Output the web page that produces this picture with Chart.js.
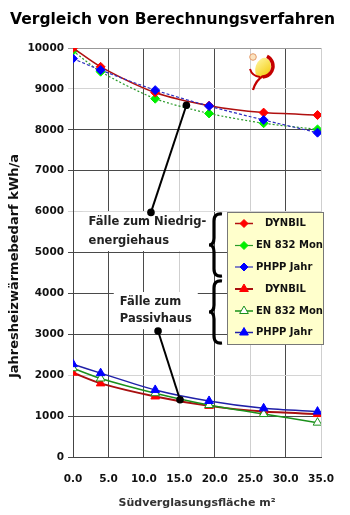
<!DOCTYPE html>
<html>
<head>
<meta charset="utf-8">
<script src="https://cdn.jsdelivr.net/npm/chart.js@4"></script>
<style>
  html, body { margin: 0; padding: 0; background: #fff; }
  #wrap { width: 350px; height: 515px; }
</style>
</head>
<body>
<div id="wrap"><canvas id="chart" width="350" height="515"></canvas></div>
<script>
const FONT = '"DejaVu Sans", "Liberation Sans", sans-serif';

// Südverglasungsfläche (m²)
const flaeche = [0, 3.9, 11.6, 19.2, 26.9, 34.5];

// Fälle zum Niedrigenergiehaus (kWh/a)
const nehDynbil = [10000, 9540, 8910, 8590, 8420, 8360];
const nehEn832 = [9930, 9420, 8760, 8400, 8160, 8010];
const nehPhpp = [9740, 9460, 8970, 8580, 8240, 7930];

// Fälle zum Passivhaus (kWh/a)
const phDynbil = [2060, 1800, 1480, 1250, 1110, 1050];
const phEn832 = [2170, 1920, 1560, 1270, 1050, 840];
const phPhpp = [2270, 2050, 1640, 1370, 1190, 1110];

const seriesNames = ['DYNBIL', 'EN 832 Mon', 'PHPP Jahr'];
const titleText = 'Vergleich von Berechnungsverfahren';
const yTitle = 'Jahresheizwärmebedarf kWh/a';
const xTitle = 'Südverglasungsfläche m²';
const noteNeh = ['Fälle zum Niedrig-', 'energiehaus'];
const notePh = ['Fälle zum', 'Passivhaus'];

// leader lines in data units: [text end, curve end]
const leaderNeh = [[11.0, 5980], [16.0, 8600]];
const leaderPh = [[12.0, 3080], [15.1, 1400]];

const lightX = [15, 25, 35];
const lightY = [2000, 6000, 9000];

function series(label, ys, line, point, style, extra) {
    return Object.assign({
        label: label,
        data: ys.map((y, i) => ({ x: flaeche[i], y: y })),
        borderColor: line,
        backgroundColor: point,
        borderWidth: 1.5,
        pointStyle: style,
        pointRadius: style === 'triangle' ? 5 : 4.5,
        pointBackgroundColor: point,
        pointBorderColor: point,
        pointBorderWidth: 1,
        tension: 0.25,
        fill: false
    }, extra || {});
}

const datasets = [
    series(seriesNames[0], nehDynbil, '#b01010', '#ff0000', 'rectRot', { order: 2 }),
    series(seriesNames[1], nehEn832, '#2a9a2a', '#00ee00', 'rectRot', { order: 3, borderDash: [2, 2], borderWidth: 1.2 }),
    series(seriesNames[2], nehPhpp, '#3030c0', '#0000ff', 'rectRot', { order: 1, borderDash: [3, 2], borderWidth: 1.2 }),
    series(seriesNames[0], phDynbil, '#a81010', '#ff0000', 'triangle', { order: 6, borderWidth: 2 }),
    series(seriesNames[1], phEn832, '#1a901a', '#ffffff', 'triangle', { order: 5, pointBorderColor: '#1a901a' }),
    series(seriesNames[2], phPhpp, '#2020a8', '#0000ff', 'triangle', { order: 4 })
];

function marker(ctx, style, x, y, r, fill, stroke) {
    ctx.beginPath();
    if (style === 'triangle') {
        ctx.moveTo(x, y - r);
        ctx.lineTo(x + r * 0.87, y + r * 0.5);
        ctx.lineTo(x - r * 0.87, y + r * 0.5);
    } else {
        ctx.moveTo(x, y - r);
        ctx.lineTo(x + r, y);
        ctx.lineTo(x, y + r);
        ctx.lineTo(x - r, y);
    }
    ctx.closePath();
    ctx.fillStyle = fill;
    ctx.fill();
    ctx.lineWidth = 1;
    ctx.strokeStyle = stroke;
    ctx.stroke();
}

function brace(ctx, x, top, bottom) {
    const mid = (top + bottom) / 2;
    ctx.beginPath();
    ctx.moveTo(x + 13, top + 1);
    ctx.quadraticCurveTo(x + 5, top, x + 5, top + 8);
    ctx.lineTo(x + 5, mid - 7);
    ctx.quadraticCurveTo(x + 5, mid, x, mid);
    ctx.quadraticCurveTo(x + 5, mid, x + 5, mid + 7);
    ctx.lineTo(x + 5, bottom - 8);
    ctx.quadraticCurveTo(x + 5, bottom, x + 13, bottom - 1);
    ctx.lineWidth = 3.2;
    ctx.strokeStyle = '#000';
    ctx.stroke();
}

const extras = {
    id: 'extras',
    afterDraw(chart) {
        const ctx = chart.ctx;
        const xs = chart.scales.x, ys = chart.scales.y;
        const px = v => xs.getPixelForValue(v);
        const py = v => ys.getPixelForValue(v);
        ctx.save();

        // title
        ctx.font = 'bold 15.5px ' + FONT;
        ctx.fillStyle = '#000';
        ctx.textBaseline = 'middle';
        ctx.textAlign = 'left';
        const w = ctx.measureText(titleText).width;
        ctx.letterSpacing = Math.max(0, (325 - w) / (titleText.length - 1)) + 'px';
        ctx.fillText(titleText, 10, 20);
        ctx.letterSpacing = '0px';

        // y axis title
        ctx.save();
        ctx.translate(15, 266);
        ctx.rotate(-Math.PI / 2);
        ctx.font = 'bold 13px ' + FONT;
        ctx.textAlign = 'center';
        ctx.fillStyle = '#111';
        ctx.fillText(yTitle, 0, 0);
        ctx.restore();

        // note boxes
        ctx.font = 'bold 11.5px ' + FONT;
        ctx.textAlign = 'left';
        [[noteNeh, 2.2, 5750, 5280], [notePh, 6.6, 3790, 3370]].forEach(n => {
            const x0 = px(n[1]), y1 = py(n[2]), y2 = py(n[3]);
            const tw = Math.max(ctx.measureText(n[0][0]).width, ctx.measureText(n[0][1]).width);
            ctx.fillStyle = '#fff';
            ctx.fillRect(x0 - 6, y1 - 10, tw + 12, y2 - y1 + 20);
            ctx.fillStyle = '#222';
            ctx.fillText(n[0][0], x0, y1);
            ctx.fillText(n[0][1], x0, y2);
        });

        // leader lines
        [leaderNeh, leaderPh].forEach(l => {
            ctx.beginPath();
            ctx.moveTo(px(l[0][0]), py(l[0][1]));
            ctx.lineTo(px(l[1][0]), py(l[1][1]));
            ctx.lineWidth = 2;
            ctx.strokeStyle = '#000';
            ctx.stroke();
            l.forEach(p => {
                ctx.beginPath();
                ctx.arc(px(p[0]), py(p[1]), 3.8, 0, Math.PI * 2);
                ctx.fillStyle = '#000';
                ctx.fill();
            });
        });

        // legend box
        const lx = 227, ly = 212, lw = 96, lh = 132;
        ctx.fillStyle = '#ffffcc';
        ctx.fillRect(lx, ly, lw, lh);
        ctx.lineWidth = 1;
        ctx.strokeStyle = '#777';
        ctx.strokeRect(lx + 0.5, ly + 0.5, lw, lh);
        const rows = [223.5, 245.5, 267, 289, 311, 332.5];
        ctx.font = 'bold 10px ' + FONT;
        datasets.forEach((d, i) => {
            const y = rows[i];
            ctx.beginPath();
            ctx.moveTo(235, y);
            ctx.lineTo(253, y);
            ctx.lineWidth = d.borderWidth;
            ctx.strokeStyle = d.borderColor;
            ctx.setLineDash([]);
            ctx.stroke();
            marker(ctx, d.pointStyle, 244, y, d.pointStyle === 'triangle' ? 5 : 4,
                d.pointBackgroundColor, d.pointBorderColor);
            ctx.fillStyle = '#111';
            ctx.fillText(d.label, d.label === 'DYNBIL' ? 265 : 256, y);
        });

        // braces
        brace(ctx, 209, 213, 277);
        brace(ctx, 209, 280, 344);

        // logo
        ctx.beginPath();
        ctx.ellipse(263, 68, 7.5, 10.5, 0.35, 0, Math.PI * 2);
        const g = ctx.createLinearGradient(255, 60, 270, 78);
        g.addColorStop(0, '#fff6a0');
        g.addColorStop(1, '#f2c800');
        ctx.fillStyle = g;
        ctx.fill();
        ctx.beginPath();
        ctx.arc(262, 66, 11, -1.1, 1.5);
        ctx.lineWidth = 3.5;
        ctx.strokeStyle = '#c40000';
        ctx.stroke();
        ctx.beginPath();
        ctx.moveTo(263, 76);
        ctx.quadraticCurveTo(256, 80, 253, 90);
        ctx.lineWidth = 2.2;
        ctx.stroke();
        ctx.beginPath();
        ctx.moveTo(250, 69);
        ctx.quadraticCurveTo(252, 76, 260, 77);
        ctx.lineWidth = 2;
        ctx.stroke();
        ctx.beginPath();
        ctx.arc(253, 57, 3.3, 0, Math.PI * 2);
        ctx.fillStyle = '#fbe3c0';
        ctx.fill();
        ctx.lineWidth = 1;
        ctx.strokeStyle = '#e39a6a';
        ctx.stroke();

        ctx.restore();
    }
};

new Chart(document.getElementById('chart').getContext('2d'), {
    type: 'line',
    data: { datasets: datasets },
    options: {
        responsive: false,
        animation: false,
        devicePixelRatio: 1,
        layout: { padding: { top: 48, right: 14, left: 0, bottom: 0 } },
        plugins: {
            legend: { display: false },
            title: { display: false },
            tooltip: { enabled: false }
        },
        scales: {
            x: {
                type: 'linear',
                min: 0,
                max: 35,
                afterFit: s => { s.height = 58; },
                ticks: {
                    stepSize: 5,
                    padding: 16,
                    color: '#111',
                    font: { family: FONT, size: 10.5, weight: 'bold' },
                    callback: v => v.toFixed(1)
                },
                grid: {
                    drawTicks: false,
                    color: c => lightX.includes(c.tick && c.tick.value) ? '#cfcfcf' : '#4a4a4a'
                },
                border: { color: '#444' },
                title: {
                    display: true,
                    text: xTitle,
                    color: '#333',
                    padding: { top: 0, bottom: 5 },
                    font: { family: FONT, size: 11, weight: 'bold' }
                }
            },
            y: {
                min: 0,
                max: 10000,
                afterFit: s => { s.width = 73; },
                ticks: {
                    stepSize: 1000,
                    padding: 4,
                    color: '#111',
                    font: { family: FONT, size: 10.5, weight: 'bold' },
                    callback: v => String(v)
                },
                grid: {
                    tickLength: 5,
                    color: c => {
                        const v = c.tick && c.tick.value;
                        if (v === 10000) return '#999';
                        return lightY.includes(v) ? '#d4d4d4' : '#4a4a4a';
                    }
                },
                border: { color: '#444' }
            }
        }
    },
    plugins: [extras]
});
</script>
</body>
</html>
